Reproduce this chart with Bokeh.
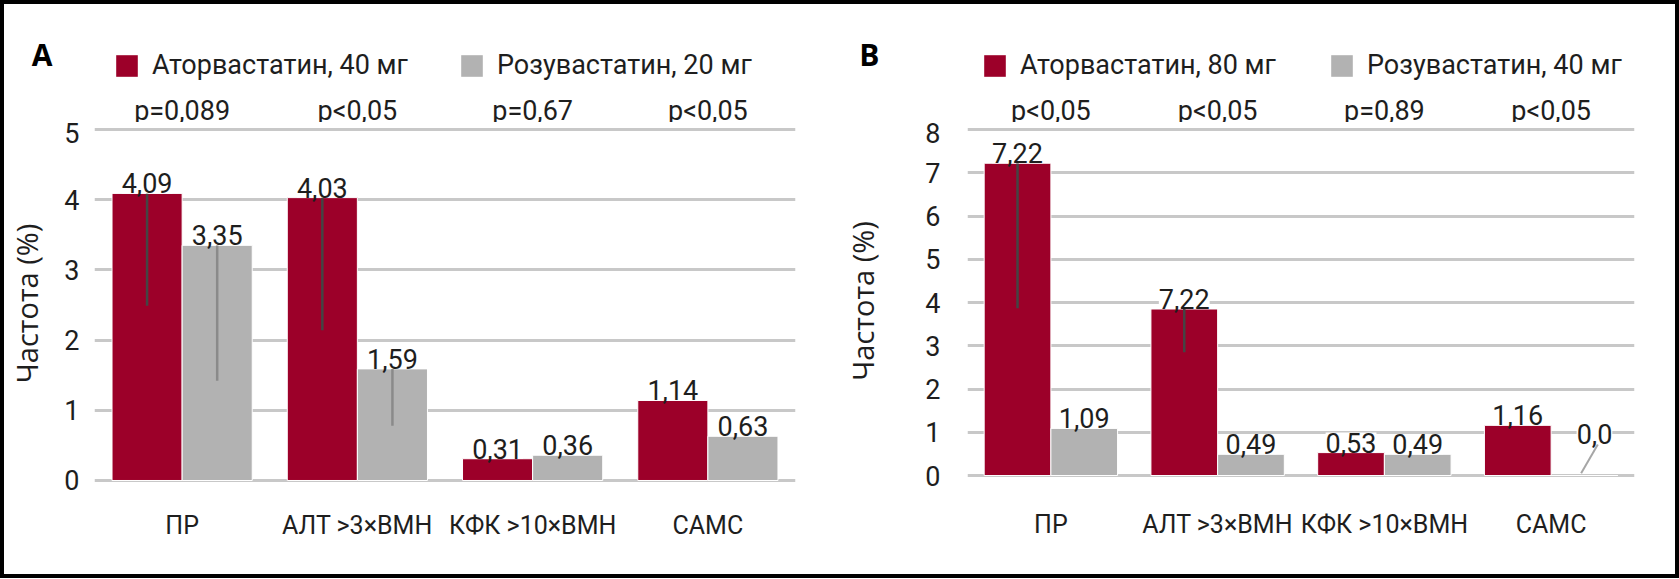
from bokeh.plotting import figure
from bokeh.models import (ColumnDataSource, FactorRange, Range1d, FixedTicker,
                          Legend, LegendItem, PrintfTickFormatter)
from bokeh.transform import dodge
from bokeh.layouts import row, column
from bokeh.embed import file_html
from bokeh.resources import INLINE
from bokeh.core.properties import value

# ---------------- data ----------------
categories = ["ПР", "АЛТ >3×ВМН", "КФК >10×ВМН", "САМС"]

a_series = ["Аторвастатин, 40 мг", "Розувастатин, 20 мг"]
a_atorva = [4.09, 4.03, 0.31, 1.14]
a_rosuva = [3.35, 1.59, 0.36, 0.63]
a_atorva_labels = ["4,09", "4,03", "0,31", "1,14"]
a_rosuva_labels = ["3,35", "1,59", "0,36", "0,63"]
a_pvalues = ["p=0,089", "p<0,05", "p=0,67", "p<0,05"]
a_err_cats = ["ПР", "АЛТ >3×ВМН"]
a_atorva_err_low = [2.49, 2.14]
a_rosuva_err_low = [1.42, 0.78]
a_yticks = [0, 1, 2, 3, 4, 5]

b_series = ["Аторвастатин, 80 мг", "Розувастатин, 40 мг"]
b_atorva = [7.22, 3.85, 0.53, 1.16]
b_rosuva = [1.09, 0.49, 0.49, 0.0]
b_atorva_labels = ["7,22", "7,22", "0,53", "1,16"]
b_rosuva_labels = ["1,09", "0,49", "0,49", "0,0"]
b_pvalues = ["p<0,05", "p<0,05", "p=0,89", "p<0,05"]
b_err_cats = ["ПР", "АЛТ >3×ВМН"]
b_atorva_err_low = [3.87, 2.85]
b_yticks = [0, 1, 2, 3, 4, 5, 6, 7, 8]

# ---------------- style ----------------
RED = "#9c0029"
GRAY = "#b2b2b2"
GRID = "#c8c8c8"
FONT = "Roboto"
FS = "27px"
XFS = "25px"
TXT = "#1e1e1e"
HEAD_H = 118
MAIN_H = 452


def make_header(letter, series, pvalues, x_range, width, mbl, mbr,
                letter_standoff, legend_x, legend_spacing, pv_y):
    h = figure(width=width, height=HEAD_H,
               x_range=x_range, y_range=Range1d(0, HEAD_H),
               x_axis_location=None, y_axis_location="left",
               output_backend="svg", toolbar_location=None, title=None,
               min_border_left=mbl, min_border_right=mbr,
               min_border_top=0, min_border_bottom=0,
               outline_line_color=None,
               border_fill_color="white", background_fill_color="white")
    h.grid.visible = False

    # panel letter, shown as the single label of the header's left axis
    h.yaxis.ticker = FixedTicker(ticks=[68])
    h.yaxis.formatter = PrintfTickFormatter(format=letter)
    h.yaxis.axis_line_color = None
    h.yaxis.major_tick_line_color = None
    h.yaxis.minor_tick_line_color = None
    h.yaxis.major_label_standoff = letter_standoff
    h.yaxis.major_label_text_font = "Open Sans"
    h.yaxis.major_label_text_font_style = "bold"
    h.yaxis.major_label_text_font_size = "30px"
    h.yaxis.major_label_text_color = "black"

    # p-values, centred on each category
    h.text(x=categories, y=pv_y, text=pvalues,
           text_align="center", text_baseline="alphabetic",
           text_font=value(FONT), text_font_size=FS, text_color=TXT)

    # legend swatches: zero-height bars kept below the visible area
    l1 = h.vbar(x=categories[:1], bottom=[-20], top=[-20], width=0.4,
                fill_color=RED, line_color=None)
    l2 = h.vbar(x=categories[:1], bottom=[-20], top=[-20], width=0.4,
                fill_color=GRAY, line_color=None)
    legend = Legend(items=[LegendItem(label=series[0], renderers=[l1]),
                           LegendItem(label=series[1], renderers=[l2])],
                    location=(legend_x, 41), orientation="horizontal",
                    border_line_color=None, background_fill_alpha=0,
                    padding=0, margin=0, spacing=legend_spacing, label_standoff=12,
                    glyph_width=27, glyph_height=27, label_height=27,
                    label_text_font=FONT, label_text_font_size=FS,
                    label_text_color=TXT)
    h.add_layout(legend)
    return h


def make_main(atorva, rosuva, atorva_labels, rosuva_labels,
              err_cats, atorva_low, rosuva_low, yticks, y_start, y_end,
              width, mbl, mbr, mbb, tick_standoff, label_standoff, xlab_standoff,
              zero_label=False):
    n = len(categories)
    p = figure(width=width, height=MAIN_H,
               x_range=FactorRange(factors=categories, range_padding=0),
               y_range=Range1d(y_start, y_end),
               output_backend="svg", toolbar_location=None, title=None,
               min_border_left=mbl, min_border_right=mbr,
               min_border_top=0, min_border_bottom=mbb,
               outline_line_color=None, border_fill_color="white",
               background_fill_color="white")

    # grid
    p.xgrid.grid_line_color = None
    p.ygrid.ticker = FixedTicker(ticks=yticks)
    p.ygrid.grid_line_color = GRID
    p.ygrid.grid_line_width = 3

    # y axis
    p.yaxis.ticker = FixedTicker(ticks=yticks)
    p.yaxis.axis_line_color = None
    p.yaxis.major_tick_line_color = None
    p.yaxis.minor_tick_line_color = None
    p.yaxis.major_label_text_font = FONT
    p.yaxis.major_label_text_font_size = FS
    p.yaxis.major_label_text_color = TXT
    p.yaxis.major_label_standoff = tick_standoff
    p.yaxis.axis_label = "Частота (%)"
    p.yaxis.axis_label_text_font = "Open Sans"
    p.yaxis.axis_label_text_font_style = "normal"
    p.yaxis.axis_label_text_font_size = "29px"
    p.yaxis.axis_label_text_color = TXT
    p.yaxis.axis_label_standoff = label_standoff

    # x axis
    p.xaxis.axis_line_color = None
    p.xaxis.major_tick_line_color = None
    p.xaxis.minor_tick_line_color = None
    p.xaxis.major_label_text_font = FONT
    p.xaxis.major_label_text_font_size = XFS
    p.xaxis.major_label_text_color = TXT
    p.xaxis.major_label_standoff = xlab_standoff

    src = ColumnDataSource(dict(cat=categories, atorva=atorva, rosuva=rosuva,
                                al=atorva_labels, rl=rosuva_labels))
    p.vbar(x=dodge("cat", -0.2, range=p.x_range), top="atorva", width=0.4,
           source=src, fill_color=RED, line_color="white", line_width=1)
    p.vbar(x=dodge("cat", 0.2, range=p.x_range), top="rosuva", width=0.4,
           source=src, fill_color=GRAY, line_color="white", line_width=1)

    # error bars (lower part only, as in the original)
    idx = [categories.index(c) for c in err_cats]
    if atorva_low:
        esrc = ColumnDataSource(dict(cat=err_cats, top=[atorva[i] for i in idx], low=atorva_low))
        p.segment(x0=dodge("cat", -0.2, range=p.x_range), y0="top",
                  x1=dodge("cat", -0.2, range=p.x_range), y1="low",
                  source=esrc, line_color="#444444", line_width=2.5)
    if rosuva_low:
        esrc2 = ColumnDataSource(dict(cat=err_cats, top=[rosuva[i] for i in idx], low=rosuva_low))
        p.segment(x0=dodge("cat", 0.2, range=p.x_range), y0="top",
                  x1=dodge("cat", 0.2, range=p.x_range), y1="low",
                  source=esrc2, line_color="#8a8a8a", line_width=2.5)

    # value labels
    text_kw = dict(text_align="center", text_baseline="alphabetic", y_offset=-10,
                   text_font=value(FONT), text_font_size=FS, text_color=TXT,
                   background_fill_color="white")
    p.text(x=dodge("cat", -0.2, range=p.x_range), y="atorva", text="al", source=src, **text_kw)
    if zero_label:
        m = n - 1
        rsrc = ColumnDataSource(dict(cat=categories[:m], rosuva=rosuva[:m], rl=rosuva_labels[:m]))
        p.text(x=dodge("cat", 0.2, range=p.x_range), y="rosuva", text="rl", source=rsrc, **text_kw)
        zsrc = ColumnDataSource(dict(cat=categories[m:], rosuva=rosuva[m:], rl=rosuva_labels[m:]))
        p.segment(x0=dodge("cat", 0.18, range=p.x_range), y0=0.05,
                  x1=dodge("cat", 0.28, range=p.x_range), y1=0.72,
                  source=zsrc, line_color="#a6a6a6", line_width=2)
        zkw = dict(text_kw)
        zkw["y_offset"] = -42
        zkw["x_offset"] = 10
        p.text(x=dodge("cat", 0.2, range=p.x_range), y="rosuva", text="rl", source=zsrc, **zkw)
    else:
        p.text(x=dodge("cat", 0.2, range=p.x_range), y="rosuva", text="rl", source=src, **text_kw)
    return p


pA = make_main(a_atorva, a_rosuva, a_atorva_labels, a_rosuva_labels,
               a_err_cats, a_atorva_err_low, a_rosuva_err_low, a_yticks,
               -0.057, 5.1, 836, 83, 45, 90, 9, 15, 20)
hA = make_header("A", a_series, a_pvalues, pA.x_range, 836, 83, 45, 36, 19, 50, 12)

pB = make_main(b_atorva, b_rosuva, b_atorva_labels, b_rosuva_labels,
               b_err_cats, b_atorva_err_low, [], b_yticks,
               -0.092, 8.162, 835, 117, 41, 95, 21, 40, 24, zero_label=True)
hB = make_header("B", b_series, b_pvalues, pB.x_range, 835, 117, 41, 82, 14, 52, 12)

layout = row(column(hA, pA), column(hB, pB), styles={"border": "4px solid black"})

open("out.html", "w").write(file_html(layout, INLINE))
